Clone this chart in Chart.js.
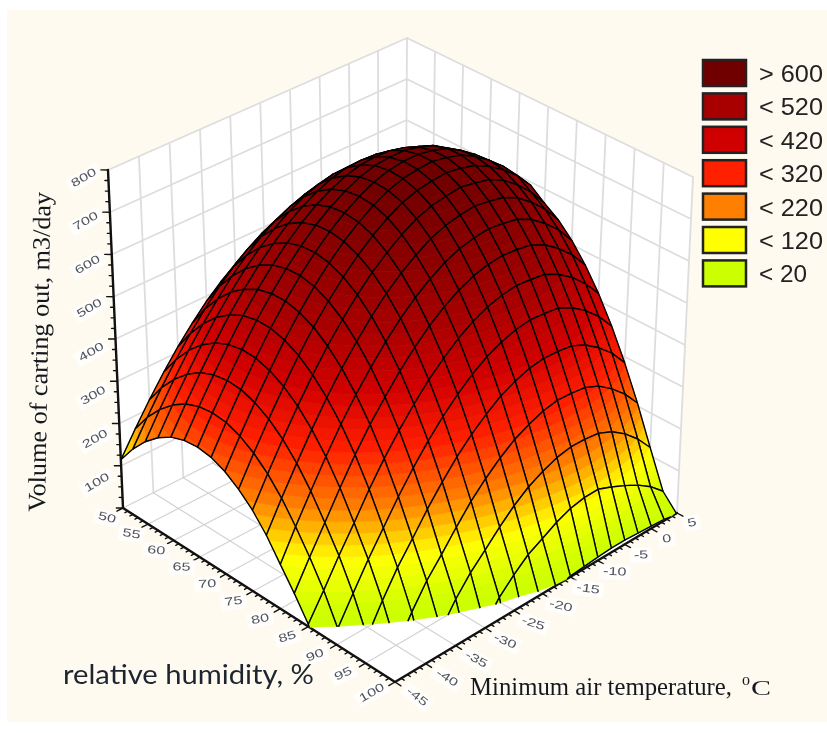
<!DOCTYPE html>
<html>
<head>
<meta charset="utf-8">
<title>Volume of carting out</title>
<script src="https://cdn.jsdelivr.net/npm/chart.js@4"></script>
<style>
html, body { margin: 0; padding: 0; background: #fff; }
canvas { display: block; filter: blur(0.45px); }
</style>
</head>
<body>
<canvas id="surfaceChart" width="827" height="733"></canvas>
<script>
const humidity = [50, 52.5, 55, 57.5, 60, 62.5, 65, 67.5, 70, 72.5, 75, 77.5, 80, 82.5, 85, 87.5, 90, 92.5, 95, 97.5, 100];
const temperature = [-45, -42.5, -40, -37.5, -35, -32.5, -30, -27.5, -25, -22.5, -20, -17.5, -15, -12.5, -10, -7.5, -5, -2.5, 0, 2.5, 5];

// one row per humidity value, one column per temperature value
const volume = [
  [114, 169, 221, 269, 313, 352, 388, 418, 444, 464, 479, 489, 493, 491, 483, 469, 449, 421, 387, 346, 297],
  [158, 215, 268, 317, 362, 403, 440, 471, 498, 520, 536, 547, 553, 552, 546, 533, 514, 487, 454, 415, 367],
  [194, 252, 306, 357, 403, 445, 483, 516, 544, 567, 584, 597, 604, 604, 599, 588, 570, 544, 512, 474, 428],
  [222, 281, 336, 388, 436, 479, 518, 552, 581, 605, 624, 638, 646, 647, 643, 633, 617, 592, 561, 524, 479],
  [242, 302, 358, 411, 460, 504, 544, 579, 610, 635, 655, 670, 679, 681, 679, 669, 655, 631, 601, 565, 521],
  [253, 314, 371, 425, 476, 521, 562, 598, 630, 656, 677, 693, 703, 706, 705, 696, 683, 660, 632, 597, 554],
  [256, 318, 376, 431, 483, 529, 571, 608, 641, 668, 690, 707, 718, 722, 722, 714, 702, 680, 653, 620, 578],
  [251, 314, 373, 429, 482, 529, 572, 610, 643, 671, 694, 712, 724, 729, 730, 723, 712, 691, 665, 633, 592],
  [237, 301, 361, 418, 472, 520, 564, 603, 637, 666, 690, 709, 721, 727, 730, 723, 713, 693, 668, 637, 597],
  [215, 280, 341, 399, 454, 503, 547, 587, 622, 652, 677, 697, 710, 716, 720, 714, 705, 686, 662, 632, 592],
  [186, 251, 313, 372, 427, 477, 522, 563, 599, 629, 655, 676, 690, 697, 702, 696, 688, 670, 643, 609, 566],
  [148, 214, 276, 336, 392, 443, 488, 530, 567, 598, 624, 646, 661, 669, 674, 669, 662, 645, 618, 585, 543],
  [101, 168, 231, 292, 349, 400, 446, 488, 526, 558, 585, 607, 623, 632, 637, 633, 627, 610, 584, 552, 510],
  [55, 118, 178, 239, 297, 349, 395, 438, 476, 509, 537, 559, 576, 586, 591, 588, 583, 566, 541, 509, 468],
  [5, 62, 122, 178, 236, 289, 336, 379, 418, 451, 480, 503, 520, 531, 537, 534, 530, 513, 489, 457, 417],
  [-70, -4, 56, 114, 167, 220, 268, 312, 351, 385, 414, 438, 455, 467, 473, 471, 467, 451, 427, 396, 356],
  [-167, -98, -22, 40, 96, 143, 192, 236, 276, 310, 339, 364, 381, 394, 400, 399, 395, 380, 356, 326, 286],
  [-254, -185, -119, -46, 14, 66, 107, 151, 192, 226, 256, 281, 298, 312, 319, 318, 314, 300, 276, 246, 207],
  [-350, -280, -214, -151, -90, -25, 25, 66, 99, 133, 164, 189, 207, 221, 228, 228, 224, 210, 187, 157, 119],
  [-454, -384, -317, -254, -193, -139, -89, -34, 10, 42, 70, 88, 107, 121, 128, 129, 116, 101, 84, 62, 33],
  [-566, -496, -429, -365, -304, -250, -200, -154, -113, -78, -30, -8, 2, 5, 8, 10, 10, 8, 6, 3, -3]
];

const humidityTicks = [50, 55, 60, 65, 70, 75, 80, 85, 90, 95, 100];
const temperatureTicks = [-45, -40, -35, -30, -25, -20, -15, -10, -5, 0, 5];
const volumeTicks = [100, 200, 300, 400, 500, 600, 700, 800];

const legendLabels = ['> 600', '< 520', '< 420', '< 320', '< 220', '< 120', '< 20'];
const legendColors = ['#700000', '#a80000', '#d00000', '#ff2000', '#ff8000', '#ffff00', '#ccff00'];
const colorLevels = [720, 510, 410, 305, 205, 115, 20];

const H_MIN = 50, H_MAX = 100, T_MIN = -45, T_MAX = 5, Z_MIN = 0, Z_MAX = 800;
const BAND = 20;
const CREAM = '#fffaf0';

// corners of the box on the page: floor and top of it
const floorMap = quadMap([123, 508], [395, 682], [677, 513], [405, 366]);
const topMap = quadMap([108, 170], [397, 318], [693, 177], [407, 38]);

function quadMap(p00, p10, p11, p01) {
  const dx1 = p10[0] - p11[0], dx2 = p01[0] - p11[0], sx = p00[0] - p10[0] + p11[0] - p01[0];
  const dy1 = p10[1] - p11[1], dy2 = p01[1] - p11[1], sy = p00[1] - p10[1] + p11[1] - p01[1];
  const den = dx1 * dy2 - dx2 * dy1;
  const g = (sx * dy2 - dx2 * sy) / den;
  const h = (dx1 * sy - sx * dy1) / den;
  const a = p10[0] - p00[0] + g * p10[0], b = p01[0] - p00[0] + h * p01[0];
  const d = p10[1] - p00[1] + g * p10[1], e = p01[1] - p00[1] + h * p01[1];
  return function (u, v) {
    const q = g * u + h * v + 1;
    return { x: (a * u + b * v + p00[0]) / q, y: (d * u + e * v + p00[1]) / q };
  };
}

function project(hum, temp, vol) {
  const u = (hum - H_MIN) / (H_MAX - H_MIN);
  const v = (temp - T_MIN) / (T_MAX - T_MIN);
  const w = (vol - Z_MIN) / (Z_MAX - Z_MIN);
  const a = floorMap(u, v), b = topMap(u, v);
  return { x: a.x + (b.x - a.x) * w, y: a.y + (b.y - a.y) * w };
}

function hexRgb(hex) {
  return [parseInt(hex.slice(1, 3), 16), parseInt(hex.slice(3, 5), 16), parseInt(hex.slice(5, 7), 16)];
}

function colorFor(z) {
  const n = colorLevels.length;
  if (z >= colorLevels[0]) return legendColors[0];
  if (z <= colorLevels[n - 1]) return legendColors[n - 1];
  for (let i = 0; i < n - 1; i++) {
    if (z <= colorLevels[i] && z >= colorLevels[i + 1]) {
      const f = (z - colorLevels[i + 1]) / (colorLevels[i] - colorLevels[i + 1]);
      const lo = hexRgb(legendColors[i + 1]), hi = hexRgb(legendColors[i]);
      return 'rgb(' + lo.map(function (c, k) { return Math.round(c + (hi[k] - c) * f); }).join(',') + ')';
    }
  }
}

function clipAbove(poly, level, keepAbove) {
  const out = [];
  for (let i = 0; i < poly.length; i++) {
    const p = poly[i], q = poly[(i + 1) % poly.length];
    const pIn = keepAbove ? p.z >= level : p.z <= level;
    const qIn = keepAbove ? q.z >= level : q.z <= level;
    if (pIn) out.push(p);
    if (pIn !== qIn) {
      const f = (level - p.z) / (q.z - p.z);
      out.push({ x: p.x + (q.x - p.x) * f, y: p.y + (q.y - p.y) * f, z: level });
    }
  }
  return out;
}

function polygonSet(points, color, edge) {
  return {
    data: points.concat([points[0]]).map(function (p) { return { x: p.x, y: p.y }; }),
    showLine: true, fill: 'shape', backgroundColor: color, borderColor: color,
    borderWidth: edge, pointRadius: 0, tension: 0
  };
}

function lineSet(points, color, width) {
  return {
    data: points, showLine: true, fill: false, borderColor: color, borderWidth: width,
    pointRadius: 0, tension: 0, spanGaps: false, borderJoinStyle: 'round', borderCapStyle: 'round'
  };
}

const GAP = { x: NaN, y: NaN };
function segments(list) {
  const pts = [];
  list.forEach(function (s) { pts.push(s[0], s[1], GAP); });
  return pts;
}

const datasets = [];

// walls and floor
const L = project(H_MIN, T_MIN, 0), F = project(H_MAX, T_MIN, 0), R = project(H_MAX, T_MAX, 0), B = project(H_MIN, T_MAX, 0);
const TL = project(H_MIN, T_MIN, Z_MAX), TR = project(H_MAX, T_MAX, Z_MAX), TB = project(H_MIN, T_MAX, Z_MAX);
datasets.push(polygonSet([L, B, TB, TL], '#ffffff', 0));
datasets.push(polygonSet([B, R, TR, TB], '#ffffff', 0));
datasets.push(polygonSet([L, F, R, B], '#ffffff', 0));

const wallLines = [], floorLines = [];
temperatureTicks.forEach(function (t) {
  wallLines.push([project(H_MIN, t, 0), project(H_MIN, t, Z_MAX)]);
  floorLines.push([project(H_MIN, t, 0), project(H_MAX, t, 0)]);
});
humidityTicks.forEach(function (h) {
  wallLines.push([project(h, T_MAX, 0), project(h, T_MAX, Z_MAX)]);
  floorLines.push([project(h, T_MIN, 0), project(h, T_MAX, 0)]);
});
volumeTicks.forEach(function (z) {
  wallLines.push([project(H_MIN, T_MIN, z), project(H_MIN, T_MAX, z)]);
  wallLines.push([project(H_MIN, T_MAX, z), project(H_MAX, T_MAX, z)]);
});
datasets.push(lineSet(segments(wallLines), '#dddddd', 1.8));
datasets.push(lineSet(segments(floorLines), '#d2d2d2', 1.2));

// axes with their small ticks
const axisTicks = [];
for (let h = H_MIN; h <= H_MAX; h++) {
  axisTicks.push([project(h, T_MIN, 0), project(h, T_MIN - (h % 5 === 0 ? 1 : 0.5), 0)]);
}
for (let t = T_MIN; t <= T_MAX; t++) {
  axisTicks.push([project(H_MAX, t, 0), project(H_MAX + ((t + 45) % 5 === 0 ? 1 : 0.5), t, 0)]);
}
for (let z = Z_MIN; z <= Z_MAX; z += 25) {
  axisTicks.push([project(H_MIN, T_MIN, z), project(H_MIN - (z % 100 === 0 ? 0.6 : 0.3), T_MIN - (z % 100 === 0 ? 0.6 : 0.3), z)]);
}
datasets.push(lineSet(segments(axisTicks), '#111111', 1.4));
datasets.push(lineSet([L, F, R], '#111111', 2.4));
datasets.push(lineSet([L, TL], '#111111', 2.4));

// surface, far corner first so the near cells paint over it
for (let i = 0; i < humidity.length - 1; i++) {
  for (let j = temperature.length - 2; j >= 0; j--) {
    const cell = [[i, j], [i + 1, j], [i + 1, j + 1], [i, j + 1]].map(function (n) {
      const z = volume[n[0]][n[1]];
      const p = project(humidity[n[0]], temperature[n[1]], z);
      return { x: p.x, y: p.y, z: z };
    });
    const zs = cell.map(function (c) { return c.z; });
    const zLow = Math.max(Z_MIN, Math.min.apply(null, zs));
    const zHigh = Math.max.apply(null, zs);
    if (zHigh <= Z_MIN) continue;

    for (let lo = Math.floor(zLow / BAND) * BAND; lo < zHigh; lo += BAND) {
      const poly = clipAbove(clipAbove(cell, lo, true), lo + BAND, false);
      if (poly.length >= 3) datasets.push(polygonSet(poly, colorFor(lo + BAND / 2), 0.7));
    }

    const edges = [];
    cell.forEach(function (p, k) {
      const q = cell[(k + 1) % 4];
      if (p.z < Z_MIN && q.z < Z_MIN) return;
      const f = (p.z < Z_MIN || q.z < Z_MIN) ? (Z_MIN - p.z) / (q.z - p.z) : 0;
      const cut = { x: p.x + (q.x - p.x) * f, y: p.y + (q.y - p.y) * f };
      if (p.z < Z_MIN) edges.push([cut, q]);
      else if (q.z < Z_MIN) edges.push([p, cut]);
      else edges.push([p, q]);
    });
    datasets.push(lineSet(segments(edges), '#000000', 1.4));
  }
}
datasets.reverse(); // first dataset is painted last

function tickLabel(ctx, text, x, y, degrees) {
  ctx.save();
  ctx.translate(x, y);
  ctx.rotate(degrees * Math.PI / 180);
  ctx.scale(1.35, 0.95);
  ctx.font = '12px "Liberation Sans"';
  ctx.textAlign = 'center';
  ctx.textBaseline = 'middle';
  const w = ctx.measureText(text).width;
  ctx.fillStyle = 'rgba(255,255,255,0.75)';
  ctx.fillRect(-w / 2 - 3, -8, w + 6, 16);
  ctx.fillStyle = '#4f5462';
  ctx.fillText(text, 0, 0);
  ctx.restore();
}

function fitText(ctx, text, x, y, width, font, color) {
  ctx.save();
  ctx.font = font;
  ctx.fillStyle = color;
  ctx.textAlign = 'left';
  ctx.textBaseline = 'alphabetic';
  ctx.translate(x, y);
  ctx.scale(width / ctx.measureText(text).width, 1);
  ctx.fillText(text, 0, 0);
  ctx.restore();
}

const pagePlugin = {
  id: 'page',
  beforeDraw: function (chart) {
    const ctx = chart.ctx;
    ctx.save();
    ctx.fillStyle = CREAM;
    ctx.fillRect(7, 10, 820, 712);
    ctx.restore();
  },
  afterDraw: function (chart) {
    const ctx = chart.ctx;
    const sx = chart.scales.x, sy = chart.scales.y;

    volumeTicks.forEach(function (z) {
      const p = project(H_MIN, T_MIN, z);
      tickLabel(ctx, String(z), sx.getPixelForValue(p.x) - 24, sy.getPixelForValue(p.y) + 8 + (Z_MAX - z) * 0.0129, -30);
    });
    humidityTicks.forEach(function (h) {
      const p = project(h, T_MIN, 0);
      const f = (h - H_MIN) / (H_MAX - H_MIN);
      tickLabel(ctx, String(h), sx.getPixelForValue(p.x) - 16 - 7 * f, sy.getPixelForValue(p.y) + 10 + f, 14 - 44 * f);
    });
    temperatureTicks.forEach(function (t) {
      const p = project(H_MAX, t, 0);
      const f = (t - T_MIN) / (T_MAX - T_MIN);
      tickLabel(ctx, String(t), sx.getPixelForValue(p.x) + 22 - 7 * f, sy.getPixelForValue(p.y) + 15 - 5 * f, 38 - 50 * f);
    });

    // axis titles
    fitText(ctx, 'relative humidity, %', 63, 684, 251, '26px Lato', '#1c2430');
    fitText(ctx, 'Minimum air temperature,', 470, 695, 262, '25px "Liberation Serif"', '#14181f');
    fitText(ctx, '0', 742, 685, 8, '13px "Liberation Serif"', '#14181f');
    fitText(ctx, 'C', 751, 695, 20, '21px "Liberation Serif"', '#14181f');
    ctx.save();
    ctx.translate(45, 512);
    ctx.rotate(-89 * Math.PI / 180);
    fitText(ctx, 'Volume of carting out, m3/day', 0, 0, 320, '25px "Liberation Serif"', '#14181f');
    ctx.restore();

    // legend
    legendLabels.forEach(function (label, i) {
      const top = 60 + i * 33.4;
      ctx.fillStyle = legendColors[i];
      ctx.strokeStyle = '#222222';
      ctx.lineWidth = 2.5;
      ctx.fillRect(703, top, 43, 26);
      ctx.strokeRect(703, top, 43, 26);
      fitText(ctx, label, 759, top + 22, label.length === 5 ? 64 : 48, '24px "Liberation Sans"', '#222222');
    });
  }
};

new Chart(document.getElementById('surfaceChart'), {
  type: 'scatter',
  data: { datasets: datasets },
  options: {
    responsive: false,
    animation: false,
    events: [],
    layout: { padding: 0 },
    plugins: { legend: { display: false }, tooltip: { enabled: false } },
    scales: {
      x: { type: 'linear', min: 0, max: 827, display: false },
      y: { type: 'linear', min: 0, max: 733, reverse: true, display: false }
    }
  },
  plugins: [pagePlugin]
});
</script>
</body>
</html>
